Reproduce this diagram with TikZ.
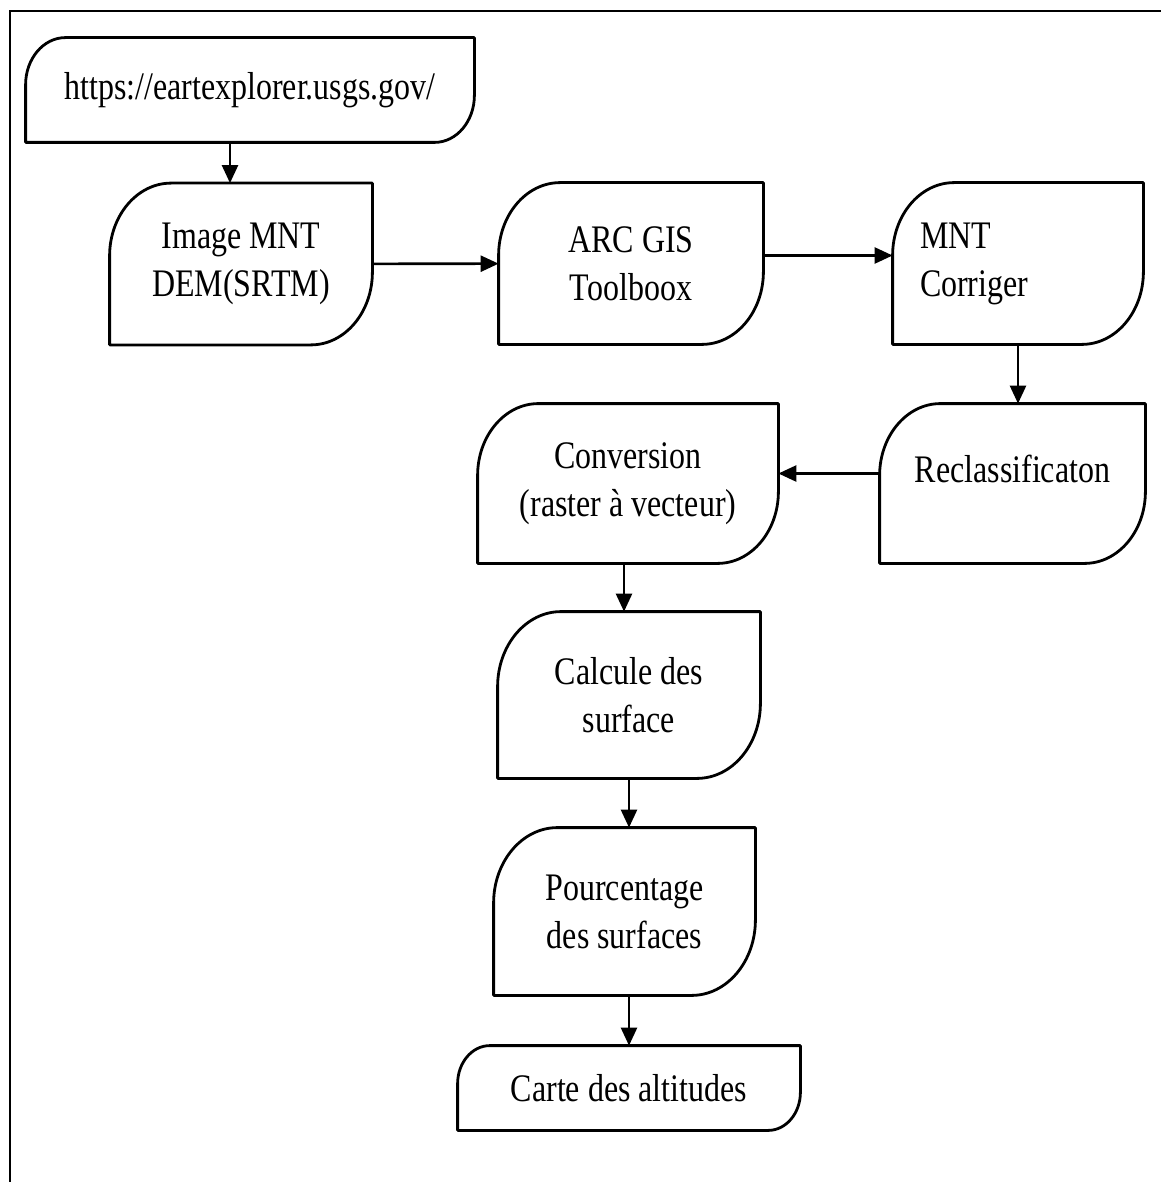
\documentclass[tikz,border=0pt]{standalone}
\usepackage{fontspec}
\setmainfont{Liberation Serif}[FakeStretch=0.82]
\usetikzlibrary{arrows.meta,calc}

% outline with two big rounded corners (top left, bottom right)
\newcommand\flowoutline[1]{%
  \draw[edge] let \p1=(#1.north east), \p2=(#1.south west),
    \n1={0.38*(\y1-\y2)}, \n2={0.45*(\y1-\y2)} in
    (\p1) -- (\x1,{\y2+\n2})
    arc[start angle=0,end angle=-90,x radius=\n1,y radius=\n2]
    -- (\p2) -- (\x2,{\y1-\n2})
    arc[start angle=180,end angle=90,x radius=\n1,y radius=\n2]
    -- cycle;}

\begin{document}
\begin{tikzpicture}[x=0.5pt,y=-0.5pt,font=\fontsize{19.5}{24}\selectfont]
\tikzset{
  flow/.style={align=center,inner sep=0pt},
  edge/.style={line width=1.4pt,line join=round},
  arr/.style={-{Triangle[length=9pt,width=8pt]},line width=1.3pt}
}
\useasboundingbox (0,0) rectangle (1161,1182);
\draw[line width=1.2pt] (10,1182) -- (10,11) -- (1161,11);

\node[flow,minimum width=224pt,minimum height=52pt] (url) at (250,90) {https://eartexplorer.usgs.gov/};
\node[flow,minimum width=131pt,minimum height=80.5pt] (img) at (241,264) {Image MNT\\DEM(SRTM)};
\node[flow,minimum width=132pt,minimum height=80.5pt] (gis) at (631,263.5) {ARC GIS\\Toolboox};
\node[flow,align=left,text width=98pt,minimum width=125pt,minimum height=80.5pt] (mntc) at (1018,263.5) {MNT\\Corriger};
\node[flow,text depth=15pt,minimum width=132.5pt,minimum height=79.5pt] (recl) at (1012.5,483.5) {Reclassificaton};
\node[flow,minimum width=150pt,minimum height=79.5pt] (conv) at (628,483.5) {Conversion\\(raster à vecteur)};
\node[flow,minimum width=131pt,minimum height=83pt] (surf) at (629,695) {Calcule des\\surface};
\node[flow,minimum width=130.5pt,minimum height=83.5pt] (pct) at (624.5,911.5) {Pourcentage\\des surfaces};
\node[flow,minimum width=171pt,minimum height=42pt] (carte) at (629,1088) {Carte des altitudes};

\foreach \b in {url,img,gis,mntc,recl,conv,surf,pct,carte}
  \flowoutline{\b};

\draw[arr] ([xshift=-10pt]url.south) -- ([xshift=-10pt]url.south |- img.north);
\draw[arr] (img) -- (gis);
\draw[arr] ([yshift=4pt]gis.east) -- ([yshift=4pt]mntc.west);
\draw[arr] (mntc.south) -- (mntc.south |- recl.north);
\draw[arr] ([yshift=5pt]recl.west) -- ([yshift=5pt]conv.east);
\draw[arr] ([xshift=-2pt]conv.south) -- ([xshift=-2pt]conv.south |- surf.north);
\draw[arr] (surf.south) -- (surf.south |- pct.north);
\draw[arr] (carte.north |- pct.south) -- (carte.north);
\end{tikzpicture}
\end{document}
